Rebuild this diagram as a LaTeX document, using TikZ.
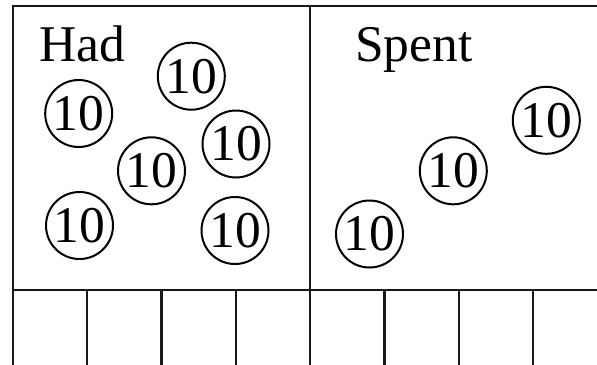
\documentclass[tikz,border=0pt]{standalone}
\usepackage{fontspec}
\setmainfont{Liberation Serif}
\begin{document}
\begin{tikzpicture}[x=1bp,y=-1bp,
  frame/.style={line width=2.5bp,black!90},
  coin/.style={circle,draw,line width=2bp,minimum size=67bp,inner sep=0pt,font=\fontsize{51.5bp}{52bp}\selectfont},
  title/.style={anchor=base west,inner sep=0pt,font=\fontsize{51.5bp}{52bp}\selectfont}]
\useasboundingbox (0,0) rectangle (597,364);
% frame
\coordinate (tl) at (12.8,6.2);
\coordinate (tr) at (600,6.2);
\coordinate (bl) at (12.8,366);
\coordinate (br) at (600,366);
\coordinate (ml) at (12.8,290);
\coordinate (mr) at (600,290);
\draw[frame] (tr) -- (tl) -- (bl) -- (br);
\draw[frame] (ml) -- (mr);
\coordinate (dt) at (310.3,6.2);
\coordinate (db) at (310.3,366);
\draw[frame,line width=2.2bp] (dt) -- (db);
\foreach \i/\x in {1/87,2/161.5,3/236,5/384.6,6/459,7/533}{
  \coordinate (ct\i) at (\x,290);
  \coordinate (cb\i) at (\x,366);
  \draw[frame] (ct\i) -- (cb\i);
}
% titles
\node[title] (had) at (39,61.7) {Had};
\node[title] (spent) at (355,61.7) {Spent};
% coins
\node[coin] (l1) at (78.7,113.5) {10};
\node[coin] (l2) at (191.3,76.2) {10};
\node[coin] (l3) at (151.5,170.8) {10};
\node[coin] (l4) at (236,144) {10};
\node[coin] (l5) at (79.5,225.5) {10};
\node[coin] (l6) at (235,230.5) {10};
\node[coin] (r1) at (369.5,234) {10};
\node[coin] (r2) at (453.3,170.8) {10};
\node[coin] (r3) at (546.3,120.3) {10};
\end{tikzpicture}
\end{document}
